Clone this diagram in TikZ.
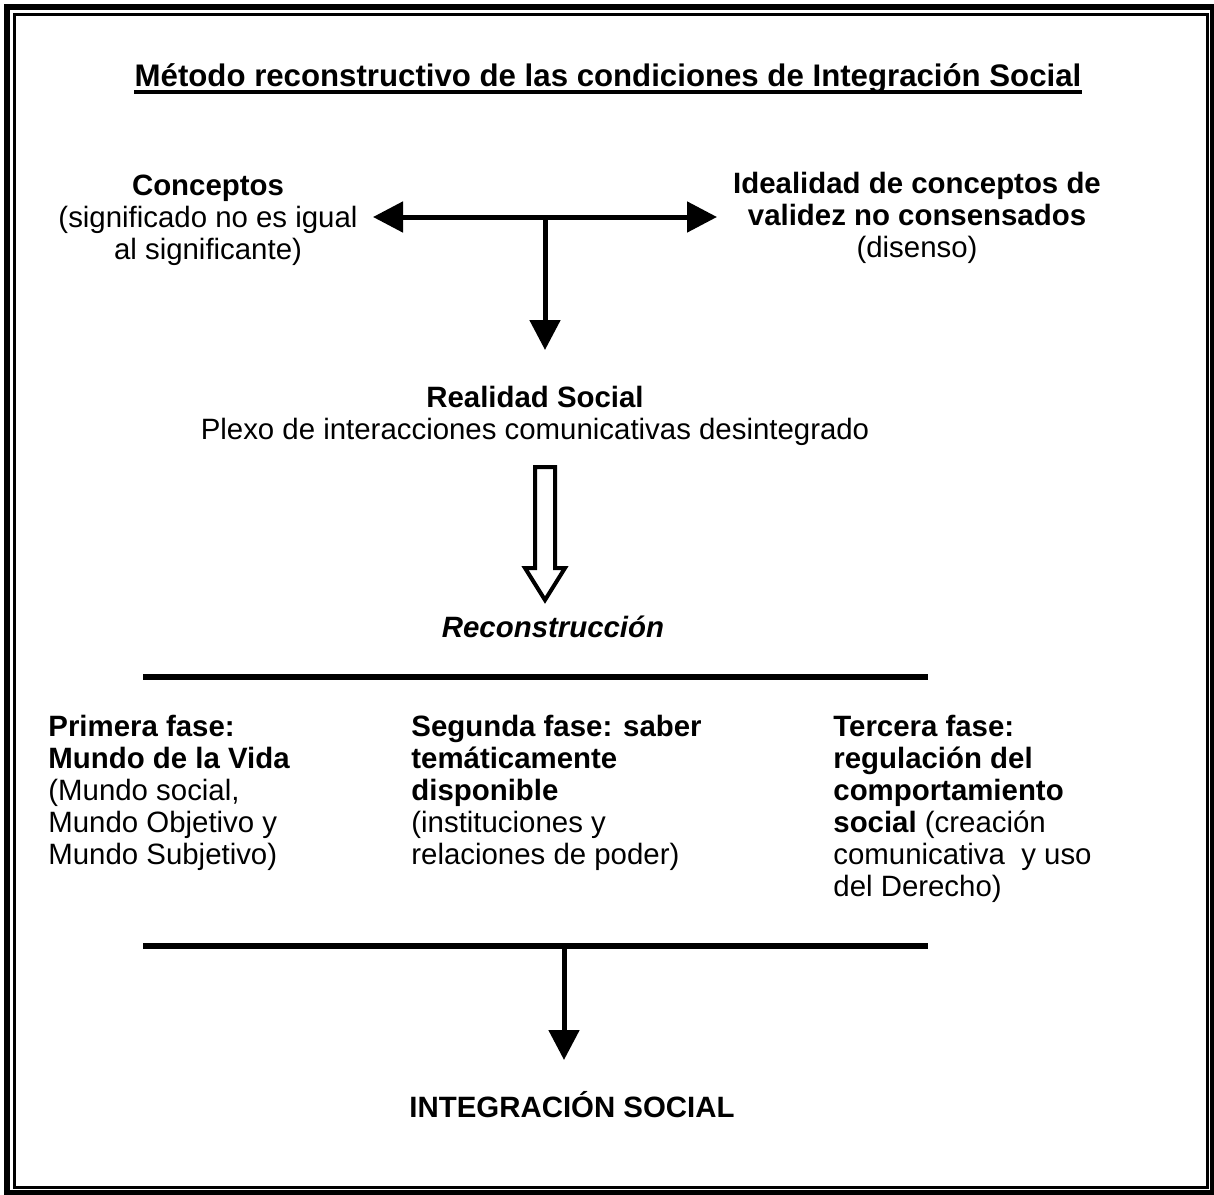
\documentclass[tikz,border=0pt]{standalone}
\usepackage{fontspec}
\setmainfont{Liberation Sans}
\usetikzlibrary{arrows.meta}

\begin{document}
\begin{tikzpicture}[x=0.5pt, y=-0.5pt,
    every node/.style={font=\fontsize{14.7pt}{16pt}\selectfont, inner sep=0pt, anchor=base},
    bigarrow/.style={line width=2.5pt, -{Triangle[length=15pt, width=15pt]}},
    rule/.style={line width=3pt}]
    \useasboundingbox (0,0) rectangle (1214,1194);

    % frame
    \draw[line width=3pt] (7,7) rectangle (1213,1193);
    \draw[line width=1.2pt] (14.5,14.5) rectangle (1207.5,1187.5);

    % title
    \node[font=\fontsize{15.6pt}{17pt}\selectfont] (title) at (608,86) {\bfseries Método reconstructivo de las condiciones de Integración Social};
    \draw[line width=1.8pt] ([yshift=-3pt]title.base west) -- ([yshift=-3pt]title.base east);

    % top row (base = last line)
    \node[align=center] (concep) at (208,259) {\textbf{Conceptos}\\(significado no es igual\\al significante)};
    \node[align=center] (ideal) at (917,257) {\textbf{Idealidad de conceptos de}\\\textbf{validez no consensados}\\(disenso)};
    \node[align=center] (real) at (535,439) {\textbf{Realidad Social}\\Plexo de interacciones comunicativas desintegrado};

    \coordinate (join) at (545,217);
    \coordinate (tipL) at (373,217);
    \coordinate (tipR) at (717,217);
    \coordinate (tipD) at (545,350);
    \draw[bigarrow] (join) -- (tipL);
    \draw[bigarrow] (join) -- (tipR);
    \draw[bigarrow] (join) -- (tipD);

    % hollow arrow
    \coordinate (hollow) at (545,467);
    \draw[line width=2pt, line join=miter] (hollow) ++(-10,0) -- ++(20,0) -- ++(0,101) -- ++(10,0)
        -- (545,600) -- (525,568) -- (535,568) -- cycle;

    \node (recon) at (553,637) {\bfseries\itshape Reconstrucción};

    % phases
    \coordinate (ruleAL) at (143,677);
    \coordinate (ruleAR) at (928,677);
    \draw[rule] (ruleAL) -- (ruleAR);

    \node[align=left, anchor=base west] (fase1) at (48,864) {\textbf{Primera fase:}\\\textbf{Mundo de la Vida}\\(Mundo social,\\Mundo Objetivo y\\Mundo Subjetivo)};
    \node[align=left, anchor=base west] (fase2) at (411,864) {\textbf{Segunda fase: saber}\\\textbf{temáticamente}\\\textbf{disponible}\\(instituciones y\\relaciones de poder)};
    \node[align=left, anchor=base west] (fase3) at (833,896) {\textbf{Tercera fase:}\\\textbf{regulación del}\\\textbf{comportamiento}\\\textbf{social} (creación\\comunicativa~ y uso\\del Derecho)};

    \coordinate (ruleBL) at (143,946);
    \coordinate (ruleBR) at (928,946);
    \draw[rule] (ruleBL) -- (ruleBR);

    \coordinate (down) at (564,946);
    \coordinate (tipE) at (564,1060);
    \draw[bigarrow] (down) -- (tipE);

    \node (integ) at (572,1117) {\bfseries INTEGRACIÓN SOCIAL};
\end{tikzpicture}
\end{document}
